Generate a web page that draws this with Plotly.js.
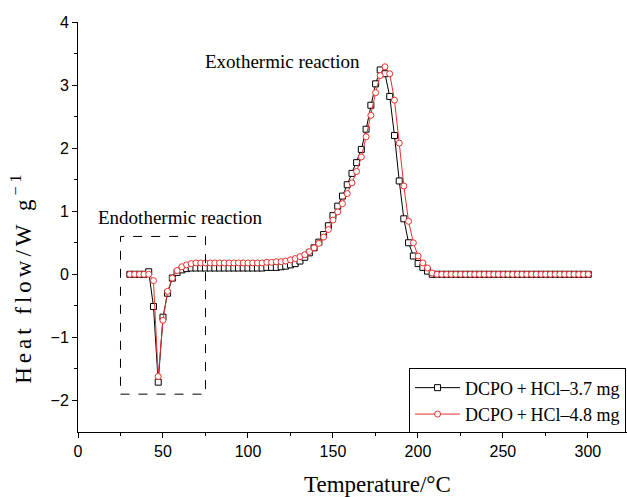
<!DOCTYPE html>
<html>
<head>
<meta charset="utf-8">
<script src="https://cdn.plot.ly/plotly-3.0.1.min.js"></script>
<style>
  html, body { margin: 0; padding: 0; background: #fff; }
  #chart { width: 627px; height: 497px; }
</style>
</head>
<body>
<div id="chart"></div>
<script>
// DSC scan temperatures (°C)
const temperature = [
  30.5, 33.3, 36.1, 38.8, 41.6, 44.4, 47.2, 50.0, 52.7, 55.5,
  58.3, 61.1, 63.9, 66.6, 69.4, 72.2, 75.0, 77.8, 80.5, 83.3,
  86.1, 88.9, 91.7, 94.4, 97.2, 100.0, 102.8, 105.6, 108.3, 111.1,
  113.9, 116.7, 119.5, 122.2, 125.0, 127.8, 130.6, 133.4, 136.1, 138.9,
  141.7, 144.5, 147.3, 150.0, 152.8, 155.6, 158.4, 161.2, 163.9, 166.7,
  169.5, 172.3, 175.1, 177.8, 180.6, 183.4, 186.2, 189.0, 191.7, 194.5,
  197.3, 200.1, 202.9, 205.6, 208.4, 211.2, 214.0, 216.8, 219.5, 222.3,
  225.1, 227.9, 230.7, 233.4, 236.2, 239.0, 241.8, 244.6, 247.3, 250.1,
  252.9, 255.7, 258.5, 261.2, 264.0, 266.8, 269.6, 272.4, 275.1, 277.9,
  280.7, 283.5, 286.3, 289.0, 291.8, 294.6, 297.4, 300.2
];

// Heat flow, DCPO + HCl, 3.7 mg sample (W/g)
const heatFlow37 = [
  0.00, 0.00, 0.00, 0.00, 0.04, -0.51, -1.71, -0.68, -0.30, -0.06,
  0.03, 0.07, 0.09, 0.10, 0.10, 0.10, 0.10, 0.10, 0.10, 0.10,
  0.10, 0.10, 0.10, 0.10, 0.10, 0.10, 0.10, 0.10, 0.10, 0.11,
  0.11, 0.11, 0.12, 0.13, 0.15, 0.17, 0.21, 0.27, 0.34, 0.42,
  0.51, 0.63, 0.77, 0.93, 1.08, 1.24, 1.42, 1.60, 1.77, 1.98,
  2.30, 2.68, 3.02, 3.24, 3.18, 2.82, 2.20, 1.48, 0.88, 0.50,
  0.29, 0.17, 0.11, 0.05, 0.00, 0.00, 0.00, 0.00, 0.00, 0.00,
  0.00, 0.00, 0.00, 0.00, 0.00, 0.00, 0.00, 0.00, 0.00, 0.00,
  0.00, 0.00, 0.00, 0.00, 0.00, 0.00, 0.00, 0.00, 0.00, 0.00,
  0.00, 0.00, 0.00, 0.00, 0.00, 0.00, 0.00, 0.00
];

// Heat flow, DCPO + HCl, 4.8 mg sample (W/g)
const heatFlow48 = [
  0.00, 0.00, 0.00, 0.00, 0.00, -0.10, -1.62, -0.73, -0.27, -0.06,
  0.06, 0.12, 0.15, 0.17, 0.18, 0.18, 0.18, 0.18, 0.18, 0.18,
  0.18, 0.18, 0.18, 0.18, 0.18, 0.18, 0.18, 0.18, 0.18, 0.19,
  0.19, 0.20, 0.20, 0.21, 0.23, 0.25, 0.28, 0.31, 0.36, 0.42,
  0.49, 0.59, 0.71, 0.86, 0.99, 1.12, 1.28, 1.45, 1.63, 1.86,
  2.18, 2.52, 2.88, 3.15, 3.29, 3.18, 2.76, 2.08, 1.40, 0.84,
  0.50, 0.29, 0.18, 0.10, 0.02, 0.00, 0.00, 0.00, 0.00, 0.00,
  0.00, 0.00, 0.00, 0.00, 0.00, 0.00, 0.00, 0.00, 0.00, 0.00,
  0.00, 0.00, 0.00, 0.00, 0.00, 0.00, 0.00, 0.00, 0.00, 0.00,
  0.00, 0.00, 0.00, 0.00, 0.00, 0.00, 0.00, 0.00
];

const seriesNames = ['DCPO\u2009+\u2009HCl\u20133.7 mg', 'DCPO\u2009+\u2009HCl\u20134.8 mg'];
const xTitle = 'Temperature/°C';
const yTitle = 'Heat flow/W g<sup>\u22121</sup>';

const serif = 'Liberation Serif, Times New Roman, serif';
const sans = 'Liberation Sans, Arial, sans-serif';

const traces = [
  {
    x: temperature, y: heatFlow37, name: seriesNames[0],
    type: 'scatter', mode: 'lines+markers',
    line: { color: '#000000', width: 1 },
    marker: { symbol: 'square', size: 6, color: '#ffffff', line: { color: '#000000', width: 1 } }
  },
  {
    x: temperature, y: heatFlow48, name: seriesNames[1],
    type: 'scatter', mode: 'lines+markers',
    line: { color: '#e8302c', width: 1 },
    marker: { symbol: 'circle', size: 6, color: '#ffffff', line: { color: '#e8302c', width: 1 } }
  }
];

const layout = {
  width: 627, height: 497,
  margin: { l: 78, r: 0, t: 22, b: 65 },
  paper_bgcolor: '#ffffff', plot_bgcolor: '#ffffff',
  showlegend: true,
  xaxis: {
    range: [0, 323], tickvals: [0, 50, 100, 150, 200, 250, 300],
    ticks: 'outside', ticklen: 5, tickwidth: 1, tickcolor: '#000',
    minor: { tickvals: [25, 75, 125, 175, 225, 275], ticks: 'outside', ticklen: 3, tickwidth: 1, tickcolor: '#000' },
    showline: true, linecolor: '#000', linewidth: 1,
    showgrid: false, zeroline: false,
    tickfont: { family: sans, size: 16, color: '#000' }
  },
  yaxis: {
    range: [-2.5, 4], tickvals: [-2, -1, 0, 1, 2, 3, 4],
    ticks: 'outside', ticklen: 5, tickwidth: 1, tickcolor: '#000',
    minor: { tickvals: [-1.5, -0.5, 0.5, 1.5, 2.5, 3.5], ticks: 'outside', ticklen: 3, tickwidth: 1, tickcolor: '#000' },
    showline: true, linecolor: '#000', linewidth: 1,
    showgrid: false, zeroline: false,
    tickfont: { family: sans, size: 16, color: '#000' }
  },
  legend: {
    x: 0.603, y: 0.155, xanchor: 'left', yanchor: 'top',
    bordercolor: '#000', borderwidth: 1, bgcolor: '#ffffff',
    font: { family: serif, size: 18, color: '#000' },
    itemwidth: 45,
    tracegroupgap: 0
  },
  shapes: [
    { type: 'rect', xref: 'x', yref: 'y', x0: 25, x1: 75, y0: -1.9, y1: 0.6,
      line: { color: '#000', width: 1, dash: 'dash' }, fillcolor: 'rgba(0,0,0,0)' }
  ],
  annotations: [
    { text: 'Exothermic reaction', x: 120.5, y: 3.37, xref: 'x', yref: 'y', showarrow: false,
      font: { family: serif, size: 19, color: '#000' } },
    { text: 'Endothermic reaction', x: 60.5, y: 0.9, xref: 'x', yref: 'y', showarrow: false,
      font: { family: serif, size: 19, color: '#000' } },
    // axis titles
    { text: xTitle, x: 0.546, y: -0.129, xref: 'paper', yref: 'paper',
      xanchor: 'center', yanchor: 'middle', showarrow: false,
      font: { family: serif, size: 23, color: '#000' } },
    { text: yTitle, x: -0.102, y: 0.376, xref: 'paper', yref: 'paper',
      xanchor: 'center', yanchor: 'middle', textangle: -90, showarrow: false,
      font: { family: serif, size: 23, color: '#000' } }
  ]
};

Plotly.newPlot('chart', traces, layout, { displayModeBar: false, staticPlot: true }).then(function (gd) {
  // widen the tracking of the rotated y title
  gd.querySelectorAll('.annotation-text').forEach(function (t) {
    if (t.textContent.indexOf('Heat flow') === 0) t.style.letterSpacing = '4px';
  });
});
</script>
</body>
</html>
